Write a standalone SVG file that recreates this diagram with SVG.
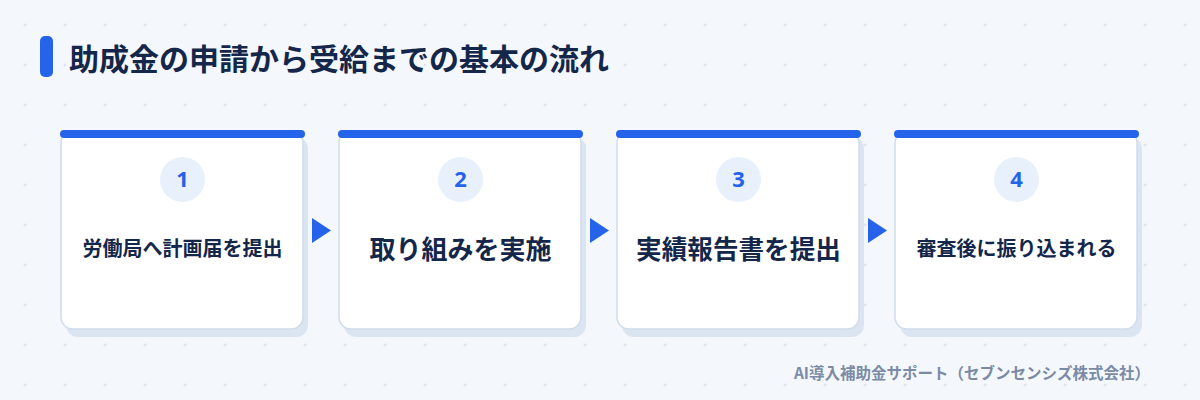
<svg xmlns="http://www.w3.org/2000/svg" width="1200" height="400" viewBox="0 0 1200 400">
<defs>
<pattern id="grid" x="5" y="5" width="40" height="40" patternUnits="userSpaceOnUse">
<path d="M20 18.5v3M18.5 20h3" stroke="#d6dfeb" stroke-width="1"/>
</pattern>
<style>
.t{font-family:"Noto Sans CJK JP","Noto Sans",sans-serif;font-weight:700;fill:#14274a;text-anchor:middle}
.num{font-family:"Noto Sans","Noto Sans CJK JP",sans-serif;font-weight:700;fill:#2563eb;font-size:22px;text-anchor:middle}
.shadow{fill:#dbe5f1}
.body{fill:#ffffff;stroke:#d0dcec;stroke-width:1.5}
.bar{fill:#2563eb}
.circ{fill:#e8f0fc}
.arr{fill:#2563eb}
</style>
</defs>
<rect width="1200" height="400" fill="#f4f7fc"/>
<rect width="1200" height="400" fill="url(#grid)"/>
<g id="title">
<rect x="40" y="36" width="13" height="41" rx="5" fill="#2563eb"/>
<text x="69" y="70" style="font-family:'Noto Sans CJK JP',sans-serif;font-weight:700;font-size:30px;fill:#14274a">助成金の申請から受給までの基本の流れ</text>
</g>
<g id="connectors">
<polygon class="arr" points="312,218 331,230.5 312,243"/>
<polygon class="arr" points="590,218 609,230.5 590,243"/>
<polygon class="arr" points="868,218 887,230.5 868,243"/>
</g>
<g id="step1">
<rect class="shadow" x="66" y="137" width="242" height="200" rx="12"/>
<rect class="body" x="61" y="131" width="242" height="198" rx="12"/>
<rect class="bar" x="60" y="130" width="245" height="8" rx="4"/>
<circle class="circ" cx="182.5" cy="179.5" r="22.5"/>
<text class="num" x="182.5" y="187.3">1</text>
<text class="t" x="182.5" y="256" font-size="20">労働局へ計画届を提出</text>
</g>
<g id="step2">
<rect class="shadow" x="344" y="137" width="242" height="200" rx="12"/>
<rect class="body" x="339" y="131" width="242" height="198" rx="12"/>
<rect class="bar" x="338" y="130" width="245" height="8" rx="4"/>
<circle class="circ" cx="460.5" cy="179.5" r="22.5"/>
<text class="num" x="460.5" y="187.3">2</text>
<text class="t" x="460.5" y="259" font-size="26">取り組みを実施</text>
</g>
<g id="step3">
<rect class="shadow" x="622" y="137" width="242" height="200" rx="12"/>
<rect class="body" x="617" y="131" width="242" height="198" rx="12"/>
<rect class="bar" x="616" y="130" width="245" height="8" rx="4"/>
<circle class="circ" cx="738.5" cy="179.5" r="22.5"/>
<text class="num" x="738.5" y="187.3">3</text>
<text class="t" x="738.5" y="259" font-size="25.6">実績報告書を提出</text>
</g>
<g id="step4">
<rect class="shadow" x="900" y="137" width="242" height="200" rx="12"/>
<rect class="body" x="895" y="131" width="242" height="198" rx="12"/>
<rect class="bar" x="894" y="130" width="245" height="8" rx="4"/>
<circle class="circ" cx="1016.5" cy="179.5" r="22.5"/>
<text class="num" x="1016.5" y="187.3">4</text>
<text class="t" x="1016.5" y="256" font-size="20">審査後に振り込まれる</text>
</g>
<text x="1150" y="379" style="font-family:'Noto Sans CJK JP',sans-serif;font-weight:700;font-size:15.5px;fill:#7b8ba5;text-anchor:end">AI導入補助金サポート（セブンセンシズ株式会社）</text>
</svg>
